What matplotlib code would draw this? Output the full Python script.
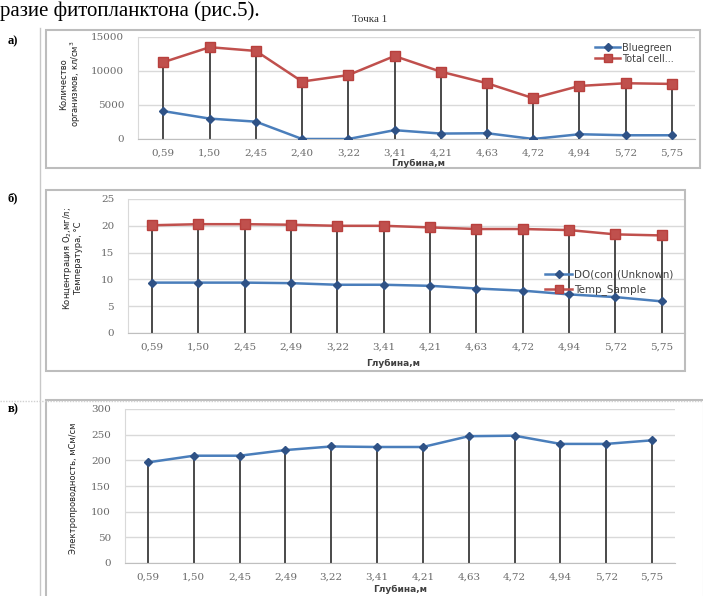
import numpy as np
import matplotlib
matplotlib.use('Agg')
import matplotlib.pyplot as plt
from matplotlib.patches import Rectangle
from matplotlib.lines import Line2D

# data
depth_a = ['0,59', '1,50', '2,45', '2,40', '3,22', '3,41', '4,21', '4,63', '4,72', '4,94', '5,72', '5,75']
depth_bc = ['0,59', '1,50', '2,45', '2,49', '3,22', '3,41', '4,21', '4,63', '4,72', '4,94', '5,72', '5,75']

bluegreen = [4100, 3000, 2550, 0, 0, 1300, 800, 850, 0, 700, 550, 550]
total_cells = [11300, 13500, 12950, 8450, 9400, 12200, 9900, 8200, 6000, 7800, 8200, 8100]

do_con = [9.4, 9.4, 9.4, 9.3, 9.0, 9.0, 8.8, 8.3, 7.9, 7.2, 6.7, 5.9]
temp_sample = [20.1, 20.3, 20.3, 20.2, 20.0, 20.0, 19.7, 19.4, 19.4, 19.2, 18.4, 18.2]

conductivity = [196, 209, 209, 220, 227, 226, 226, 247, 248, 232, 232, 239]

BLUE = '#4A7EBB'
BLUE_M = '#2F5286'
RED = '#C0504D'
RED_M = '#B8403D'
DROP = '#3C3C3C'
GRID = '#D9D9D9'
TICK = '#6A6A6A'

W, H = 703, 596
fig = plt.figure(figsize=(W / 100, H / 100), dpi=100)


def fx(px):
    return px / W


def fy(py):
    return 1 - py / H


def make_axes(x0, x1, ytop, ybot):
    return fig.add_axes([fx(x0), fy(ybot), fx(x1) - fx(x0), fy(ytop) - fy(ybot)])


def style(ax, labels, ymax, ystep, xlo):
    ax.set_xlim(xlo, len(labels) - 0.5)
    ax.set_ylim(0, ymax)
    ax.set_yticks(np.arange(0, ymax + 1, ystep))
    ax.set_xticks(range(len(labels)))
    ax.set_xticklabels(labels)
    ax.grid(axis='y', color=GRID, lw=1)
    ax.set_axisbelow(True)
    for s in ['top', 'right']:
        ax.spines[s].set_visible(False)
    ax.spines['left'].set_color(GRID)
    ax.spines['bottom'].set_color('#BFBFBF')
    ax.tick_params(axis='x', length=0, labelsize=7.5, labelcolor=TICK, pad=7)
    ax.tick_params(axis='y', length=0, labelsize=7.5, labelcolor=TICK, pad=10)
    for t in ax.get_xticklabels() + ax.get_yticklabels():
        t.set_family('DejaVu Serif')


def ylabel(ax, text, px, py, **kw):
    ax.set_ylabel(text, fontsize=6, color='#222222', linespacing=1.1, **kw)
    ax.yaxis.set_label_coords(fx(px), fy(py), transform=fig.transFigure)
    ax.yaxis.label.set_va('center')


# --- a) phytoplankton counts ---
ax1 = make_axes(138, 695, 37, 139)
x = np.arange(len(depth_a))
ax1.vlines(x, 0, np.maximum(bluegreen, total_cells), color=DROP, lw=1.3, zorder=2)
ax1.plot(x, bluegreen, color=BLUE, lw=1.8, marker='D', ms=4.5, mfc=BLUE_M, mec=BLUE_M, zorder=3)
ax1.plot(x, total_cells, color=RED, lw=1.8, marker='s', ms=6.5, mfc=RED, mec=RED_M, zorder=3)
style(ax1, depth_a, 15000, 5000, -0.55)
ylabel(ax1, 'Количество\nорганизмов, кл/см$^3$', 71, 84)

# --- b) oxygen & temperature ---
ax2 = make_axes(128, 685, 199, 333)
x = np.arange(len(depth_bc))
ax2.vlines(x, 0, np.maximum(do_con, temp_sample), color=DROP, lw=1.3, zorder=2)
ax2.plot(x, do_con, color=BLUE, lw=1.8, marker='D', ms=4.5, mfc=BLUE_M, mec=BLUE_M, zorder=3)
ax2.plot(x, temp_sample, color=RED, lw=1.8, marker='s', ms=6.5, mfc=RED, mec=RED_M, zorder=3)
style(ax2, depth_bc, 25, 5, -0.52)
ylabel(ax2, 'Концентрация O$_2$,мг/л;\nТемпература, °С', 72, 258)

# --- c) conductivity ---
ax3 = make_axes(125, 675, 409, 563)
ax3.vlines(x, 0, conductivity, color=DROP, lw=1.3, zorder=2)
ax3.plot(x, conductivity, color=BLUE, lw=1.8, marker='D', ms=4.5, mfc=BLUE_M, mec=BLUE_M, zorder=3)
style(ax3, depth_bc, 300, 50, -0.5)
ylabel(ax3, 'Электропроводность, мСм/см', 73, 488)

# x-axis titles
for px, py in [(418, 163), (393, 363), (400, 589)]:
    fig.text(fx(px), fy(py), 'Глубина,м', fontsize=6.5, fontweight='bold',
             color='#404040', ha='center', va='center')

# legends
h_blue = Line2D([], [], color=BLUE, lw=1.8, marker='D', ms=4, mfc=BLUE_M, mec=BLUE_M)
h_red = Line2D([], [], color=RED, lw=1.8, marker='s', ms=5.5, mfc=RED, mec=RED_M)
fig.legend([h_blue, h_red], ['Bluegreen', 'Total cell...'], loc='upper left',
           bbox_to_anchor=(fx(590), fy(38)), frameon=False, fontsize=7,
           handlelength=2.6, handletextpad=0.2, labelspacing=0.1, borderpad=0,
           labelcolor='#404040')
fig.legend([h_blue, h_red], ['DO(con)(Unknown)', 'Temp_Sample'], loc='upper left',
           bbox_to_anchor=(fx(540), fy(264)), frameon=False, fontsize=7.5,
           handlelength=2.6, handletextpad=0.2, labelspacing=0.5, borderpad=0,
           labelcolor='#404040')

# page decoration: running text, title, panel letters, chart frames
fig.text(0.0, fy(16), 'разие фитопланктона (рис.5).', family='Liberation Serif',
         fontsize=15, va='baseline', ha='left', color='black')
fig.text(fx(370), fy(19), 'Точка 1', family='Liberation Serif', fontsize=8,
         ha='center', va='center', color='#333333')
for lab, py in [('а)', 41), ('б)', 198), ('в)', 409)]:
    fig.text(fx(8), fy(py), lab, family='Liberation Serif', fontsize=9,
             fontweight='bold', va='center', ha='left')

fig.add_artist(Line2D([fx(40), fx(40)], [fy(28), 0], transform=fig.transFigure,
                      color='#C8C8C8', lw=1))
fig.add_artist(Line2D([0, 1], [fy(401), fy(401)], transform=fig.transFigure,
                      color='#D0D0D0', lw=1, ls=(0, (1, 1))))
for x0, y0, x1, y1 in [(46, 30, 700, 168), (46, 190, 685, 371), (46, 400, 704, 600)]:
    fig.add_artist(Rectangle((fx(x0), fy(y1)), fx(x1) - fx(x0), fy(y0) - fy(y1),
                             transform=fig.transFigure, fill=False,
                             ec='#BDBDBD', lw=1.5))

fig.savefig('out.png', dpi=100)
